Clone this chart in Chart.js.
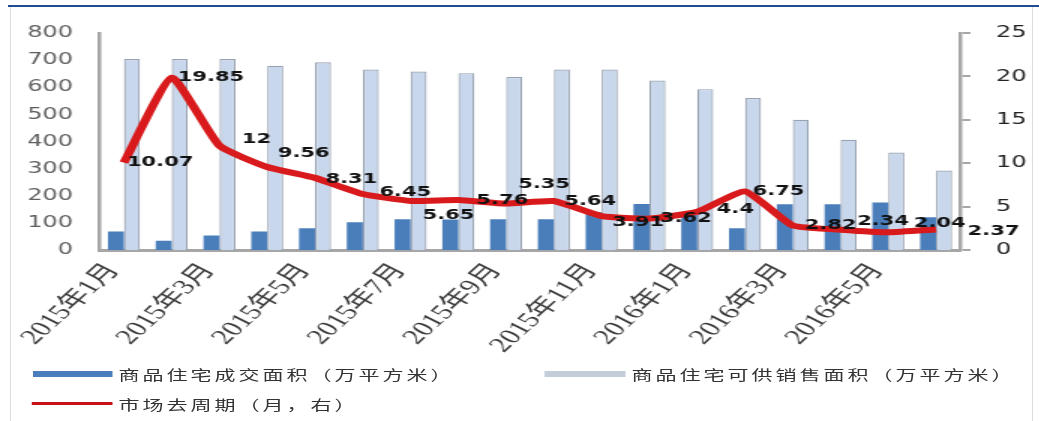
<!DOCTYPE html>
<html>
<head>
<meta charset="utf-8">
<script src="https://cdn.jsdelivr.net/npm/chart.js@4.4.1/dist/chart.umd.min.js"></script>
<style>
  html, body { margin: 0; padding: 0; background: #fff; }
  body { width: 1039px; height: 421px; position: relative; overflow: hidden; }
  .topline { position: absolute; left: 8px; top: 5px; width: 1031px; height: 2px; background: #1f4e8c; }
  .frame { position: absolute; left: 10px; top: 7px; width: 1021px; height: 414px;
    border-left: 1px solid #dcdcdc; border-right: 1px solid #dcdcdc; }
  .wrap { position: absolute; left: 0; top: 0; width: 693px; height: 421px;
    transform: scaleX(1.5); transform-origin: 0 0; }
  .legend { position: absolute; font-family: "Noto Sans CJK SC", sans-serif; font-size: 14px;
    letter-spacing: 2px; color: #333; white-space: nowrap; line-height: 16px; }
  .sw { position: absolute; }
</style>
</head>
<body>
<div class="topline"></div>
<div class="frame"></div>
<div class="wrap">
  <canvas id="myChart" width="693" height="421"></canvas>
  <div class="sw" style="left:22px;top:371px;width:53px;height:6px;background:#4a7ebb"></div>
  <div class="legend" style="left:79px;top:366px">商品住宅成交面积（万平方米）</div>
  <div class="sw" style="left:363px;top:371px;width:54px;height:6px;background:#c3ccd9"></div>
  <div class="legend" style="left:421px;top:366px">商品住宅可供销售面积（万平方米）</div>
  <div class="sw" style="left:21px;top:402px;width:54px;height:3px;background:#c8101a"></div>
  <div class="legend" style="left:79px;top:396px">市场去周期（月，右）</div>
</div>
<script>
const months = [
  "2015年1月", "2015年2月", "2015年3月", "2015年4月", "2015年5月", "2015年6月",
  "2015年7月", "2015年8月", "2015年9月", "2015年10月", "2015年11月", "2015年12月",
  "2016年1月", "2016年2月", "2016年3月", "2016年4月", "2016年5月", "2016年6月",
];
// 商品住宅成交面积（万平方米）
const salesArea = [68, 34, 53, 68, 80, 102, 113, 112, 113, 113, 139, 170, 130, 80, 169, 169, 175, 121];
// 商品住宅可供销售面积（万平方米）
const stockArea = [704, 704, 704, 679, 692, 665, 658, 652, 638, 665, 665, 625, 593, 560, 480, 406, 359, 293];
// 市场去周期（月，右）
const cycleMonths = [10.07, 19.85, 12, 9.56, 8.31, 6.45, 5.65, 5.76, 5.35, 5.64, 3.91, 3.62, 4.4, 6.75, 2.82, 2.34, 2.04, 2.37];
const leftTicks = [0, 100, 200, 300, 400, 500, 600, 700, 800];
const rightTicks = [0, 5, 10, 15, 20, 25];

// label nudges (dx, dy) so the value labels sit roughly where they were placed
const labelNudge = [
  [2, 0], [4, 0], [15, -6], [7, -14], [7, 1], [11, -2], [8, 14], [12, 0], [8, -19],
  [7, 0], [7, 6], [7, 0], [13, -2], [5, 0], [8, 0], [11, -8], [17, -9], [21, 2],
];

const valueLabels = {
  id: "valueLabels",
  afterDatasetsDraw(chart) {
    const meta = chart.getDatasetMeta(0);
    const ctx = chart.ctx;
    ctx.save();
    ctx.font = "bold 14px 'DejaVu Sans'";
    ctx.fillStyle = "#111";
    ctx.textAlign = "left";
    ctx.textBaseline = "middle";
    meta.data.forEach((pt, i) => {
      const n = labelNudge[i] || [7, 0];
      ctx.fillText(String(cycleMonths[i]), pt.x + n[0], pt.y + n[1]);
    });
    ctx.restore();
  },
};

const ctx = document.getElementById("myChart").getContext("2d");
new Chart(ctx, {
  type: "bar",
  data: {
    labels: months,
    datasets: [
      {
        type: "line",
        label: "市场去周期（月，右）",
        data: cycleMonths,
        yAxisID: "y1",
        borderColor: "#d81a1c",
        borderWidth: 6,
        pointRadius: 0,
        tension: 0.15,
        order: 0,
      },
      {
        label: "商品住宅成交面积（万平方米）",
        data: salesArea,
        yAxisID: "y",
        backgroundColor: "#4a7ebb",
        order: 1,
      },
      {
        label: "商品住宅可供销售面积（万平方米）",
        data: stockArea,
        yAxisID: "y",
        backgroundColor: "#c9d7ec",
        borderColor: "#98a2b0",
        borderWidth: 1.2,
        order: 2,
      },
    ],
  },
  options: {
    responsive: false,
    animation: false,
    devicePixelRatio: 1,
    layout: { padding: { top: 33, left: 0, right: 0, bottom: 0 } },
    datasets: { bar: { barPercentage: 1, categoryPercentage: 0.67 } },
    plugins: { legend: { display: false }, tooltip: { enabled: false } },
    scales: {
      x: {
        grid: { display: false, drawTicks: false },
        border: { display: true, color: "#a6a6a6", width: 3 },
        afterFit(scale) { scale.height = 171; },
        ticks: {
          autoSkip: false,
          minRotation: 53,
          maxRotation: 53,
          padding: 9,
          labelOffset: -7,
          color: "#3a3a3a",
          font: { family: "'Liberation Serif', 'Noto Sans CJK SC'", size: 21 },
          callback(value, index) {
            return index % 2 === 0 ? months[index] : "";
          },
        },
      },
      y: {
        position: "left",
        min: leftTicks[0],
        max: leftTicks[leftTicks.length - 1],
        afterFit(scale) { scale.width = 66.7; },
        afterBuildTicks(scale) { scale.ticks = leftTicks.map((v) => ({ value: v })); },
        grid: { display: false, drawTicks: false },
        border: { display: true, color: "#a6a6a6", width: 2.5 },
        ticks: {
          padding: 18,
          color: "#5f5f5f",
          font: { family: "'DejaVu Sans'", size: 16 },
        },
      },
      y1: {
        position: "right",
        min: rightTicks[0],
        max: rightTicks[rightTicks.length - 1],
        afterFit(scale) { scale.width = 53; },
        afterBuildTicks(scale) { scale.ticks = rightTicks.map((v) => ({ value: v })); },
        grid: { drawOnChartArea: false, color: "#a6a6a6", lineWidth: 2, tickLength: 7 },
        border: { display: true, color: "#a6a6a6", width: 2.5 },
        ticks: {
          padding: 17,
          color: "#222",
          font: { family: "'DejaVu Sans'", size: 16 },
        },
      },
    },
  },
  plugins: [valueLabels],
});
</script>
</body>
</html>
